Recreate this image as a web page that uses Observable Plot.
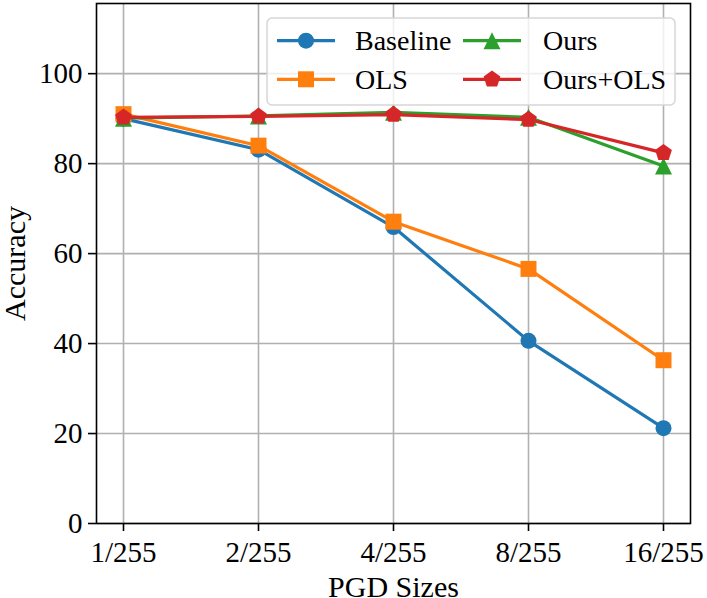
<!DOCTYPE html>
<html><head><meta charset="utf-8">
<script src="https://cdn.jsdelivr.net/npm/d3@7"></script>
<script src="https://cdn.jsdelivr.net/npm/@observablehq/plot@0.6"></script>
<style>
body{margin:0;background:#fff;}
#wrap{position:relative;width:707px;height:598px;overflow:hidden;}
#wrap svg{position:absolute;left:0;top:0;}
#wrap svg text{font-family:'Liberation Serif','DejaVu Serif',serif;}
</style>
</head><body><div id="wrap"></div>
<script>
const sizes = ["1/255", "2/255", "4/255", "8/255", "16/255"];
const seriesNames = ["Baseline", "OLS", "Ours", "Ours+OLS"];
const baseline = [90.0, 83.1, 65.9, 40.6, 21.2];
const ols = [91.0, 84.0, 67.1, 56.6, 36.3];
const ours = [90.1, 90.6, 91.4, 90.3, 79.5];
const oursOls = [90.3, 90.5, 90.9, 89.8, 82.4];
const yTicks = [0, 20, 40, 60, 80, 100];
const colors = ["#1f77b4", "#ff7f0e", "#2ca02c", "#d62728"];

const FONT = "'Liberation Serif', 'DejaVu Serif', serif";

// custom marker shapes (matplotlib-like)
const squareSym = {draw(ctx, size) { const h = Math.sqrt(size / Math.PI); ctx.rect(-h, -h, 2 * h, 2 * h); }};
const triSym = {draw(ctx, size) { const r = Math.sqrt(size / Math.PI); ctx.moveTo(0, -r); ctx.lineTo(r, r); ctx.lineTo(-r, r); ctx.closePath(); }};
const pentSym = {draw(ctx, size) {
  const r = Math.sqrt(size / Math.PI);
  for (let k = 0; k < 5; k++) { const a = -Math.PI / 2 + k * 2 * Math.PI / 5; const x = r * Math.cos(a), y = r * Math.sin(a); k ? ctx.lineTo(x, y) : ctx.moveTo(x, y); }
  ctx.closePath();
}};
const symbols = ["circle", squareSym, triSym, pentSym];
const radii = [8, 8, 8.5, 8.8];

const allValues = [baseline, ols, ours, oursOls];
const series = seriesNames.map((name, s) => sizes.map((lab, i) => ({series: name, idx: i, size: lab, acc: allValues[s][i]})));

const marks = [
  Plot.gridX(d3.range(sizes.length), {stroke: "#b0b0b0", strokeOpacity: 1, strokeWidth: 1.6}),
  Plot.gridY(yTicks, {stroke: "#b0b0b0", strokeOpacity: 1, strokeWidth: 1.6}),
  Plot.axisX(d3.range(sizes.length), {tickFormat: i => sizes[i], tickSize: 8, tickPadding: 10, strokeWidth: 1.6, fontSize: 29, fontFamily: FONT, label: null}),
  Plot.axisX({label: "PGD Sizes", ticks: [], tickSize: 0, labelAnchor: "center", labelOffset: 73, labelArrow: "none", fontSize: 30, fontFamily: FONT}),
  Plot.axisY(yTicks, {tickSize: 8, tickPadding: 6, strokeWidth: 1.6, fontSize: 29, fontFamily: FONT, label: null}),
  Plot.axisY({label: "Accuracy", ticks: [], tickSize: 0, labelAnchor: "center", labelOffset: 93, labelArrow: "none", fontSize: 30, fontFamily: FONT}),
];
series.forEach((d, s) => {
  marks.push(Plot.line(d, {x: "idx", y: "acc", stroke: colors[s], strokeWidth: 3.2}));
  marks.push(Plot.dot(d, {x: "idx", y: "acc", fill: colors[s], stroke: "none", symbol: () => symbols[s], r: radii[s]}));
});
marks.push(Plot.frame({stroke: "black", strokeWidth: 1.6}));

const chart = Plot.plot({
  width: 707, height: 598,
  marginLeft: 96, marginRight: 17, marginTop: 3, marginBottom: 75,
  style: {fontFamily: FONT, fontSize: "29px", background: "white", color: "black", overflow: "visible"},
  x: {type: "linear", domain: [-0.2, sizes.length - 1 + 0.2], label: null},
  y: {domain: [0, 115.6], label: null},
  symbol: {type: "identity"},
  marks
});
document.getElementById("wrap").appendChild(chart);

// legend overlay (inside plot, upper right)
const leg = d3.select("#wrap").append("svg").attr("width", 707).attr("height", 598)
  .style("font-family", FONT).style("pointer-events", "none");
leg.append("rect").attr("x", 267).attr("y", 18).attr("width", 408).attr("height", 87).attr("rx", 5)
  .attr("fill", "white").attr("fill-opacity", 0.8).attr("stroke", "#d6d6d6").attr("stroke-width", 1.5);
const colX = [277, 463], textX = [355, 543], rowY = [40.7, 79.3];
seriesNames.forEach((name, s) => {
  const c = Math.floor(s / 2), r = s % 2;
  const g = leg.append("g");
  g.append("line").attr("x1", colX[c]).attr("x2", colX[c] + 58).attr("y1", rowY[r]).attr("y2", rowY[r])
    .attr("stroke", colors[s]).attr("stroke-width", 3.2);
  const sym = typeof symbols[s] === "string" ? d3.symbolCircle : symbols[s];
  g.append("path").attr("d", d3.symbol(sym, Math.PI * radii[s] * radii[s])())
    .attr("transform", `translate(${colX[c] + 29},${rowY[r]})`).attr("fill", colors[s]);
  g.append("text").attr("x", textX[c]).attr("y", rowY[r] + 9.5).attr("font-size", 28).attr("fill", "black").text(name);
});
</script>
</body></html>
